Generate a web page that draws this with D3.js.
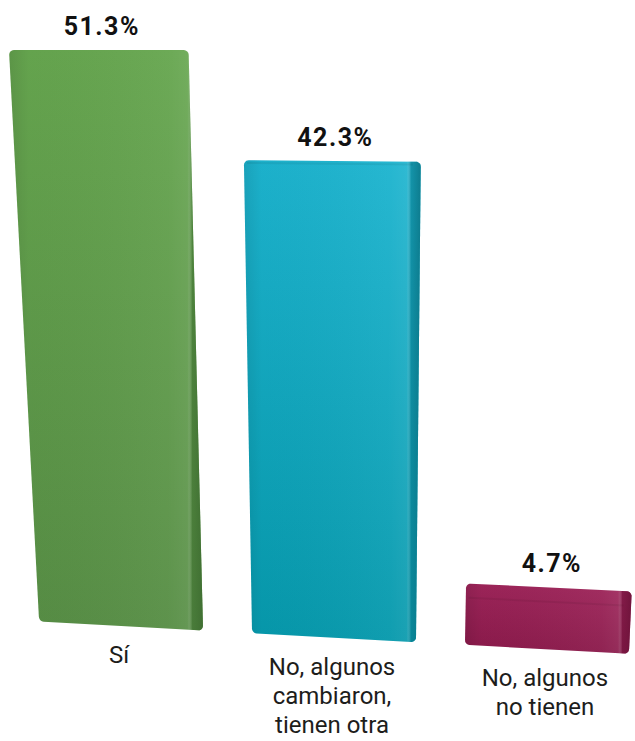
<!DOCTYPE html>
<html lang="es">
	<head>
		<meta charset="utf-8">
		<title>Bar chart</title>
		<script src="https://d3js.org/d3.v7.min.js"></script>
		<style>
			html, body{
				margin: 0;
				padding: 0;
				background: #ffffff;
			}
			text{
				font-family: Roboto, 'Noto Sans', sans-serif;
			}
		</style>
	</head>
	<body>
		<script>
			// data
			var categories = ["Sí", "No, algunos cambiaron, tienen otra", "No, algunos no tienen"];
			var labelLines = [["Sí"], ["No, algunos", "cambiaron,", "tienen otra"], ["No, algunos", "no tienen"]];
			var values = [51.3, 42.3, 4.7];
			var valueLabels = ["51.3%", "42.3%", "4.7%"];

			// colours: [top, bottom, side edge]
			var colors = [
				["#66a64f", "#578e45", "#3c6a2f"],
				["#1db4cf", "#0699ac", "#0b7384"],
				["#9e255a", "#8b1a4b", "#6a1238"]
			];

			var w = 635;
			var h = 741;

			var maxH = 566;   // pixel height of the tallest value
			var depth = 10;   // fixed 3D cap
			var fullH = maxH + depth;
			var vanishX = 355;
			var lean = 0.087; // horizontal convergence
			var tilt = 0.05;  // baseline slant

			var svg = d3.select("body")
						.append("svg")
						.attr("width", w)
						.attr("height", h);

			var defs = svg.append("defs");

			var xScale = d3.scaleBand()
							.domain(categories)
							.range([9, 655])
							.paddingInner(0.23);

			var hScale = d3.scaleLinear()
							.domain([0, d3.max(values)])
							.range([0, maxH]);

			var firstC = xScale(categories[0]) + xScale.bandwidth() / 2;
			function baseY(xc){
				return 626 + tilt * (xc - firstC);
			}

			// flat point -> perspective point
			function project(px, py, xc, yb){
				var t = 1 - (yb - py) / fullH;
				t = Math.max(0, Math.min(1, t));
				return [px + lean * t * (vanishX - px), py + tilt * t * (px - xc)];
			}

			// rounded rectangle sampled as points in flat space
			function roundedRect(x0, y0, x1, y1, r){
				var pts = [];
				var corners = [
					[x1 - r, y0 + r, -Math.PI / 2, 0],
					[x1 - r, y1 - r, 0, Math.PI / 2],
					[x0 + r, y1 - r, Math.PI / 2, Math.PI],
					[x0 + r, y0 + r, Math.PI, Math.PI * 1.5]
				];
				corners.forEach(function(c){
					for (var i = 0; i <= 6; i++){
						var a = c[2] + (c[3] - c[2]) * i / 6;
						pts.push([c[0] + r * Math.cos(a), c[1] + r * Math.sin(a)]);
					}
				});
				return pts;
			}

			var line = d3.line().curve(d3.curveLinearClosed);

			var bars = categories.map(function(c, i){
				var x0 = xScale(c);
				var x1 = x0 + xScale.bandwidth();
				var xc = (x0 + x1) / 2;
				var yb = baseY(xc);
				var top = yb - hScale(values[i]) - depth;
				return {i: i, x0: x0, x1: x1, xc: xc, yb: yb, top: top};
			});

			// gradients
			bars.forEach(function(b){
				var col = colors[b.i];
				var gv = defs.append("linearGradient")
							.attr("id", "gv" + b.i)
							.attr("x1", 0).attr("y1", 0).attr("x2", 0).attr("y2", 1);
				gv.append("stop").attr("offset", "0%").attr("stop-color", col[0]);
				gv.append("stop").attr("offset", "100%").attr("stop-color", col[1]);

				var gh = defs.append("linearGradient")
							.attr("id", "gh" + b.i)
							.attr("x1", 0).attr("y1", 0).attr("x2", 1).attr("y2", 0);
				gh.append("stop").attr("offset", "0%").attr("stop-color", "#000").attr("stop-opacity", 0.10);
				gh.append("stop").attr("offset", "10%").attr("stop-color", "#000").attr("stop-opacity", 0.02);
				gh.append("stop").attr("offset", "82%").attr("stop-color", "#fff").attr("stop-opacity", 0.04);
				gh.append("stop").attr("offset", "92%").attr("stop-color", "#fff").attr("stop-opacity", 0.08);
				gh.append("stop").attr("offset", "94.5%").attr("stop-color", col[2]).attr("stop-opacity", 0.5);
				gh.append("stop").attr("offset", "100%").attr("stop-color", col[2]).attr("stop-opacity", 0.85);
			});

			var g = svg.append("g");

			bars.forEach(function(b){
				var pts = roundedRect(b.x0, b.top, b.x1, b.yb, 5).map(function(p){
					return project(p[0], p[1], b.xc, b.yb);
				});
				g.append("path")
					.attr("d", line(pts))
					.attr("fill", "url(#gv" + b.i + ")");
				g.append("path")
					.attr("d", line(pts))
					.attr("fill", "url(#gh" + b.i + ")");

				// top cap, seen more from above on the lower bars
				var t = 1 - (b.yb - b.top) / fullH;
				var capH = 16 * t;
				if (capH > 2){
					var cap = [
						project(b.x0 + 3, b.top + capH, b.xc, b.yb),
						project(b.x1 - 8, b.top + capH, b.xc, b.yb)
					];
					g.append("path")
						.attr("d", d3.line()(cap))
						.attr("stroke", "#000")
						.attr("stroke-opacity", 0.06)
						.attr("stroke-width", 2)
						.attr("fill", "none");
				}
			});

			// value labels
			svg.selectAll("text.value")
				.data(bars)
				.enter()
				.append("text")
				.attr("class", "value")
				.attr("x", function(b){ return project(b.xc, b.top, b.xc, b.yb)[0] + 3; })
				.attr("y", function(b){ return project(b.xc, b.top, b.xc, b.yb)[1] - 15; })
				.attr("text-anchor", "middle")
				.attr("font-size", "25px")
				.attr("font-weight", 700)
				.attr("letter-spacing", "1.5px")
				.attr("fill", "#111")
				.text(function(b){ return valueLabels[b.i]; });

			// category labels
			var cat = svg.selectAll("text.cat")
				.data(bars)
				.enter()
				.append("text")
				.attr("class", "cat")
				.attr("text-anchor", "middle")
				.attr("font-size", "24px")
				.attr("fill", "#1d1d1b")
				.attr("transform", function(b){
					var p = project(b.xc, b.yb, b.xc, b.yb);
					return "translate(" + (p[0] - 2) + "," + (p[1] + 37) + ")";
				});

			cat.selectAll("tspan")
				.data(function(b){ return labelLines[b.i]; })
				.enter()
				.append("tspan")
				.attr("x", 0)
				.attr("dy", function(d, j){ return j === 0 ? 0 : 29; })
				.text(function(d){ return d; });
		</script>
	</body>
</html>
